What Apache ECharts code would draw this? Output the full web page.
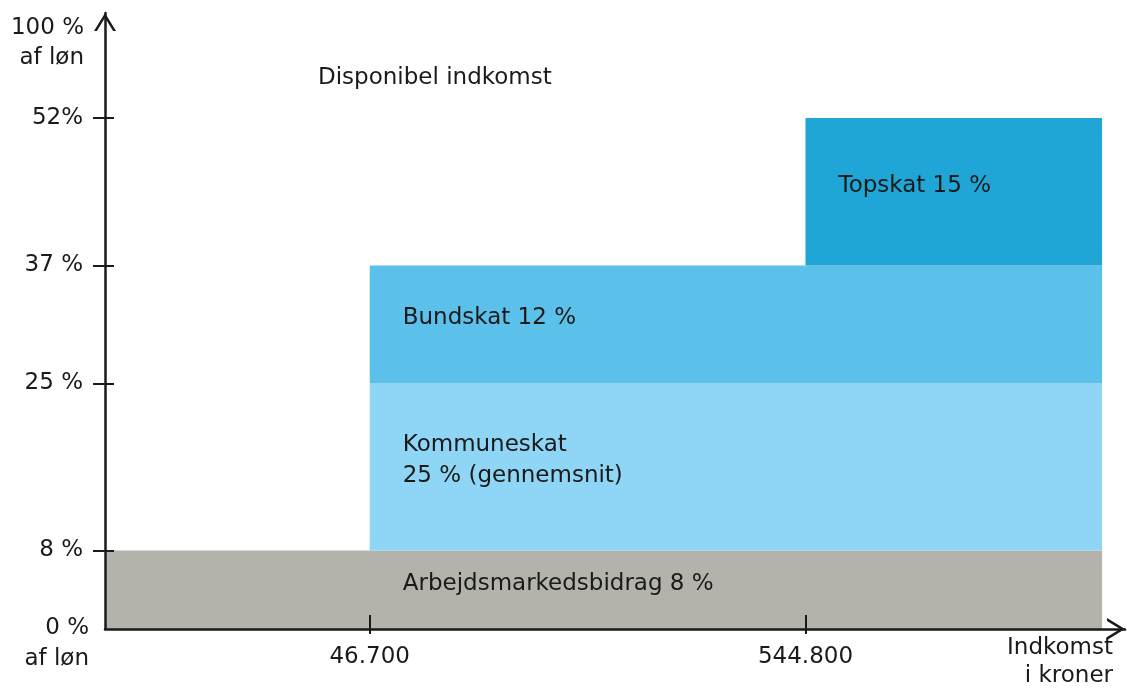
<!DOCTYPE html>
<html>
<head>
<meta charset="utf-8">
<title>Skat af løn</title>
<script src="https://cdn.jsdelivr.net/npm/echarts@6/dist/echarts.min.js"></script>
<style>
  html, body { margin: 0; padding: 0; background: #fff; }
  #chart { width: 1127px; height: 691px; }
</style>
</head>
<body>
<div id="chart"></div>
<script>
// Skatteskitse: hvor meget af lønnen der går til de enkelte skatter
// skitsen er ikke målfast på indkomstaksen, derfor log-skala (giver omtrent samme afstande)

// bånd, nedefra og op
var bandNames = ['Arbejdsmarkedsbidrag 8 %', 'Kommuneskat\n25 % (gennemsnit)', 'Bundskat 12 %', 'Topskat 15 %'];
var bandIncomeFrom = [0, 46700, 46700, 544800];   // kr, båndet gælder fra denne indkomst
var bandBottom = [0, 8, 25, 37];                  // % af løn
var bandTop = [8, 25, 37, 52];                    // % af løn

// akser
var yTicks = [8, 25, 37, 52];
var yTickLabels = ['8 %', '25 %', '37 %', '52%'];
var xTicks = [46700, 544800];
var xTickLabels = ['46.700', '544.800'];

var bandColors = ['#b3b2ab', '#8fd5f5', '#5cc1ea', '#1fa6d6'];

var xMin = 10500, xMax = 3300000, bandEnd = 2900000;
var yMax = 62.7;
var ink = '#1a1a1a';
var font = 'DejaVu Sans, Open Sans, sans-serif';
var fs = 23;
// åben pil (tegnet som smal polygon)
var chevron = 'path://M0,18 L11,0 L22,18 L19.1,18 L11,4.8 L2.9,18 Z';

var bandData = [];
for (var i = 0; i < bandNames.length; i++) {
    bandData.push([bandIncomeFrom[i], bandBottom[i], bandTop[i], i]);
}

function lookup(values, labels, v) {
    for (var i = 0; i < values.length; i++) {
        if (Math.abs(values[i] - v) < 1e-6 * values[i] + 1e-9) return labels[i];
    }
    return '';
}

function renderBand(params, api) {
    var idx = api.value(3);
    var from = Math.max(api.value(0), xMin);
    var p0 = api.coord([from, api.value(2)]);
    var p1 = api.coord([bandEnd, api.value(1)]);
    // teksten starter lidt inde i båndet, dog aldrig før første indkomstgrænse
    var textX = api.coord([Math.max(api.value(0), xTicks[0]), 0])[0] + 33;
    return {
        type: 'group',
        children: [{
            type: 'rect',
            shape: { x: p0[0], y: p0[1], width: p1[0] - p0[0], height: p1[1] - p0[1] },
            style: { fill: bandColors[idx] }
        }, {
            type: 'text',
            x: textX,
            y: (p0[1] + p1[1]) / 2 - 6,
            style: {
                text: bandNames[idx],
                fill: ink,
                font: fs + 'px ' + font,
                lineHeight: 31,
                verticalAlign: 'middle',
                align: 'left'
            }
        }]
    };
}

var axisLine = {
    lineStyle: { color: ink, width: 2.5 },
    symbol: ['none', chevron], symbolSize: [22, 18], symbolOffset: [0, -9]
};
var tickStyle = { color: ink, width: 2 };

var option = {
    animation: false,
    grid: { left: 105, right: 2, top: 13, bottom: 62 },
    textStyle: { fontFamily: font },
    graphic: [{
        type: 'text', left: 318, top: 67,
        style: { text: 'Disponibel indkomst', fill: ink, font: fs + 'px ' + font }
    }],
    xAxis: [{
        type: 'log', logBase: 10, min: xMin, max: xMax, z: 3,
        axisLine: axisLine,
        splitLine: { show: false },
        axisTick: { customValues: xTicks, length: 5, lineStyle: tickStyle },
        axisLabel: {
            customValues: xTicks, margin: 17, color: ink, fontSize: fs,
            formatter: function (v) { return lookup(xTicks, xTickLabels, v); }
        },
        name: 'Indkomst\ni kroner', nameLocation: 'end', nameGap: -12,
        nameTextStyle: { color: ink, fontSize: fs, lineHeight: 28, align: 'right', verticalAlign: 'top', padding: [5, 0, 0, 0] }
    }, {
        // streg indad på tick-mærkerne
        type: 'log', logBase: 10, min: xMin, max: xMax, position: 'bottom', offset: 0, z: 3,
        axisLine: { show: false },
        splitLine: { show: false },
        axisTick: { inside: true, customValues: xTicks, length: 14, lineStyle: tickStyle },
        axisLabel: { show: false }
    }],
    yAxis: [{
        type: 'value', min: 0, max: yMax, z: 3,
        axisLine: axisLine,
        splitLine: { show: false },
        axisTick: { customValues: yTicks, length: 12, lineStyle: tickStyle },
        axisLabel: {
            customValues: yTicks, margin: 22, color: ink, fontSize: fs,
            formatter: function (v) { return lookup(yTicks, yTickLabels, v); }
        },
        name: '100 %\naf løn', nameLocation: 'end', nameGap: 0,
        nameTextStyle: { color: ink, fontSize: fs, lineHeight: 30, align: 'right', verticalAlign: 'top', padding: [0, 21, 0, 0] }
    }, {
        type: 'value', min: 0, max: yMax, position: 'left', offset: 0, z: 3,
        axisLine: { show: false },
        splitLine: { show: false },
        axisTick: { inside: true, customValues: yTicks, length: 9, lineStyle: tickStyle },
        axisLabel: { show: false },
        name: '0 %\naf løn', nameLocation: 'start', nameGap: -16,
        nameTextStyle: { color: ink, fontSize: fs, lineHeight: 31, align: 'right', verticalAlign: 'top', padding: [0, 16, 0, 0] }
    }],
    series: [{
        type: 'custom',
        renderItem: renderBand,
        encode: { x: 0, y: [1, 2] },
        data: bandData,
        z: 1
    }]
};

var chart = echarts.init(document.getElementById('chart'));
chart.setOption(option);
</script>
</body>
</html>
